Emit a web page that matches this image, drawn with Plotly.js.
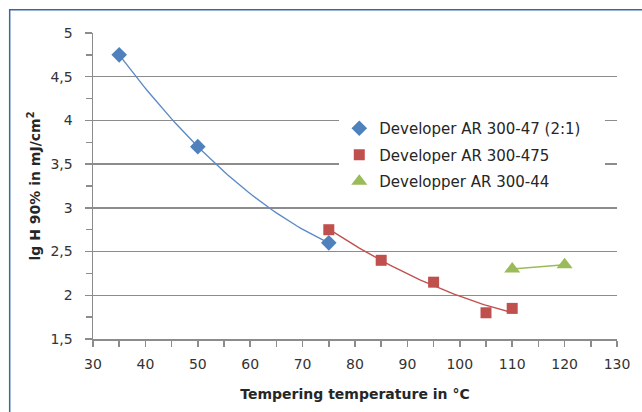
<!DOCTYPE html>
<html>
<head>
<meta charset="utf-8">
<script src="https://cdn.plot.ly/plotly-3.0.1.min.js"></script>
<style>
  html, body { margin: 0; padding: 0; background: #ffffff; }
  #chart { width: 642px; height: 412px; }
</style>
</head>
<body>
<div id="chart"></div>
<script>
// Developer AR 300-47 (2:1)
const tempA = [35, 50, 75];
const doseA = [4.75, 3.7, 2.6];
// Developer AR 300-475
const tempB = [75, 85, 95, 105, 110];
const doseB = [2.75, 2.4, 2.15, 1.8, 1.85];
// Developper AR 300-44
const tempC = [110, 120];
const doseC = [2.3, 2.35];

const names = ['Developer AR 300-47 (2:1)', 'Developer AR 300-475', 'Developper AR 300-44'];
const colors = ['#4F81BD', '#C0504D', '#9BBB59'];
const lineColors = ['#5B8BC6', '#C0504D', '#9BBB59'];
const symbols = ['diamond', 'square', 'triangle-up'];
const sizes = [12, 11, 14];
const trendOrder = [2, 2, 1];
const xs = [tempA, tempB, tempC];
const ys = [doseA, doseB, doseC];

// least-squares polynomial trendline of the given order
function polyfit(x, y, order) {
  const n = order + 1;
  const A = [], b = [];
  for (let r = 0; r < n; r++) {
    A.push(new Array(n).fill(0));
    b.push(0);
  }
  const x0 = x.reduce((s, v) => s + v, 0) / x.length;
  for (let k = 0; k < x.length; k++) {
    const u = x[k] - x0;
    for (let r = 0; r < n; r++) {
      b[r] += Math.pow(u, r) * y[k];
      for (let c = 0; c < n; c++) A[r][c] += Math.pow(u, r + c);
    }
  }
  for (let i = 0; i < n; i++) {
    let p = i;
    for (let r = i + 1; r < n; r++) if (Math.abs(A[r][i]) > Math.abs(A[p][i])) p = r;
    [A[i], A[p]] = [A[p], A[i]];
    [b[i], b[p]] = [b[p], b[i]];
    for (let r = i + 1; r < n; r++) {
      const f = A[r][i] / A[i][i];
      for (let c = i; c < n; c++) A[r][c] -= f * A[i][c];
      b[r] -= f * b[i];
    }
  }
  const coef = new Array(n).fill(0);
  for (let i = n - 1; i >= 0; i--) {
    let s = b[i];
    for (let c = i + 1; c < n; c++) s -= A[i][c] * coef[c];
    coef[i] = s / A[i][i];
  }
  return t => coef.reduce((s, c, i) => s + c * Math.pow(t - x0, i), 0);
}

function trendline(x, y, order) {
  const f = polyfit(x, y, order);
  const lo = Math.min(...x), hi = Math.max(...x);
  const tx = [], ty = [];
  const steps = 60;
  for (let i = 0; i <= steps; i++) {
    const t = lo + (hi - lo) * i / steps;
    tx.push(t);
    ty.push(f(t));
  }
  return { tx, ty };
}

const FONT = '"DejaVu Sans", Verdana, sans-serif';
const traces = [];
for (let i = 0; i < 3; i++) {
  const tl = trendline(xs[i], ys[i], trendOrder[i]);
  traces.push({
    x: tl.tx, y: tl.ty, type: 'scatter', mode: 'lines',
    line: { color: lineColors[i], width: 1.4 },
    legendgroup: 'g' + i, showlegend: false, hoverinfo: 'skip'
  });
}
for (let i = 0; i < 3; i++) {
  traces.push({
    x: xs[i], y: ys[i], type: 'scatter', mode: 'markers', name: names[i],
    marker: { color: colors[i], symbol: symbols[i], size: sizes[i], line: { width: 0 } },
    legendgroup: 'g' + i
  });
}

const AXIS = '#8c8c8c';
const layout = {
  width: 642, height: 412,
  margin: { l: 93, r: 25, t: 33, b: 73 },
  paper_bgcolor: '#ffffff', plot_bgcolor: '#ffffff',
  separators: ', ',
  font: { family: FONT, size: 14, color: '#333333' },
  showlegend: true,
  legend: {
    x: 0.47, y: 0.742, xanchor: 'left', yanchor: 'top',
    bgcolor: '#ffffff', borderwidth: 0,
    font: { family: FONT, size: 15, color: '#262626' },
    traceorder: 'grouped', tracegroupgap: 4
  },
  xaxis: {
    range: [30, 130], dtick: 10, tick0: 30,
    showgrid: false, zeroline: false, layer: 'below traces',
    showline: true, linecolor: AXIS, linewidth: 1.5,
    ticks: 'outside', ticklen: 6, tickcolor: AXIS, tickwidth: 1.5,
    ticklabelstandoff: 6,
    minor: { dtick: 5, ticks: 'outside', ticklen: 6, tickcolor: AXIS, tickwidth: 1.5, showgrid: false },
    tickfont: { family: FONT, size: 14, color: '#333333' },
    title: { text: '<b>Tempering temperature in °C</b>', font: { family: FONT, size: 14, color: '#262626' }, standoff: 18 }
  },
  yaxis: {
    range: [1.5, 5], dtick: 0.5, tick0: 1.5,
    showgrid: true, gridcolor: AXIS, gridwidth: 1.5,
    zeroline: false, layer: 'below traces',
    showline: true, linecolor: AXIS, linewidth: 1.5,
    ticks: 'outside', ticklen: 7, tickcolor: AXIS, tickwidth: 1.5,
    ticklabelstandoff: 9,
    minor: { dtick: 0.25, ticks: 'outside', ticklen: 6, tickcolor: AXIS, tickwidth: 1.5, showgrid: false },
    tickfont: { family: FONT, size: 14, color: '#333333' },
    title: { text: '<b>lg H 90% in mJ/cm<sup>2</sup></b>', font: { family: FONT, size: 14, color: '#262626' }, standoff: 6 }
  },
  shapes: [
    {
      // white legend panel laid over the gridlines
      type: 'rect', xref: 'x', yref: 'y', layer: 'above',
      x0: 77.5, x1: 127.7, y0: 3.1, y1: 4.35,
      fillcolor: '#ffffff', opacity: 1, line: { width: 0 }
    },
    {
      // chart frame
      type: 'path', xref: 'paper', yref: 'paper',
      path: 'M -0.159 -0.3 L -0.159 1.076 L 1.1 1.076',
      line: { color: '#3A66A8', width: 1.5 }
    }
  ]
};

Plotly.newPlot('chart', traces, layout, { displayModeBar: false, staticPlot: true });
</script>
</body>
</html>
